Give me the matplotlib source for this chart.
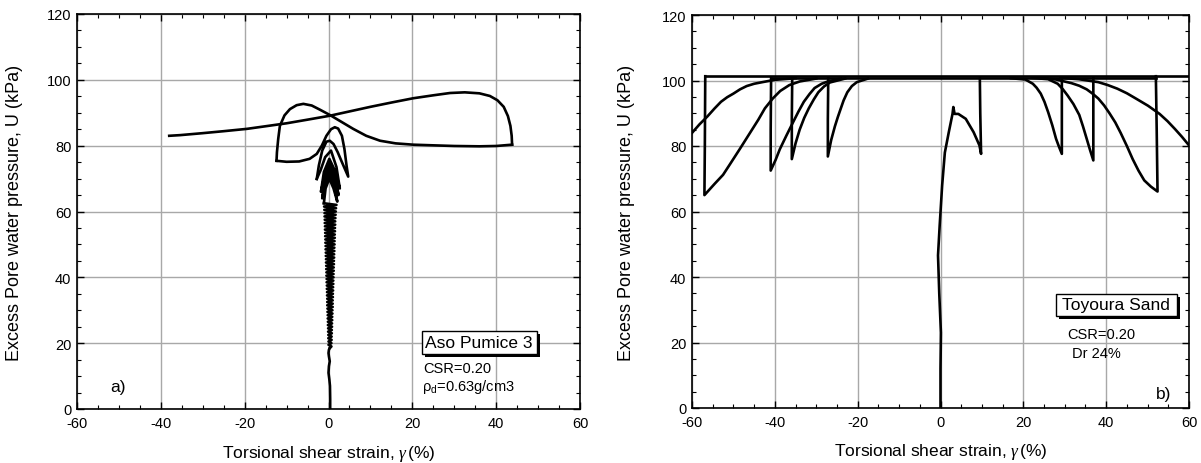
import matplotlib
matplotlib.use("Agg")
import matplotlib.pyplot as plt
from matplotlib.patches import Rectangle
from matplotlib.ticker import MultipleLocator

plt.rcParams['font.family'] = ['Liberation Sans', 'DejaVu Sans']
plt.rcParams['mathtext.fontset'] = 'custom'
plt.rcParams['mathtext.rm'] = 'Liberation Sans'
plt.rcParams['mathtext.it'] = 'Liberation Serif:italic'
plt.rcParams['axes.unicode_minus'] = False

# ---------------- data: (a) Aso Pumice 3 ----------------
# low-level wavy stem
a_stem_x = [0.4, 0.4, 0.35, 0.2, 0.0, 0.1, 0.3, 0.1, 0.0, 0.1, 0.3]
a_stem_u = [0, 3, 7, 9, 11, 13, 14.5, 16, 17, 18, 18.5]
# dense cyclic plume (reversal points)
a_plume_x = [0.7, 0.0, 0.7, 0.0, 0.75, -0.05, 0.75, -0.05, 0.8, -0.1, 0.8, -0.1,
             0.85, -0.15, 0.85, -0.15, 0.9, -0.2, 0.9, -0.2, 0.95, -0.25, 0.95, -0.25,
             1.0, -0.3, 1.0, -0.3, 1.0, -0.3, 1.05, -0.35, 1.05, -0.35, 1.1, -0.4,
             1.1, -0.4, 1.15, -0.45, 1.15, -0.45, 1.2, -0.5, 1.2, -0.5, 1.25, -0.55,
             1.25, -0.55, 1.3, -0.6, 1.3, -0.6, 1.35, -0.65, 1.35, -0.65, 1.4, -0.7,
             1.4, -0.7, 1.45, -0.75, 1.45, -0.75, 1.5, -0.8, 1.5, -0.8, 1.55, -0.85,
             1.55, -0.85, 1.6, -0.9, 1.6, -0.9, 1.65, -0.95, 1.7, -0.95, 1.75, -1.0,
             1.8, -1.05, 1.9, -1.1]
a_plume_u = [19, 19.5, 20, 20.5, 21, 21.5, 22, 22.5, 23, 23.5, 24, 24.5,
             25, 25.5, 26, 26.5, 27, 27.5, 28, 28.5, 29, 29.5, 30, 30.5,
             31, 31.5, 32, 32.5, 33, 33.5, 34, 34.5, 35, 35.5, 36, 36.5,
             37, 37.5, 38, 38.5, 39, 39.5, 40, 40.5, 41, 41.5, 42, 42.5,
             43, 43.5, 44, 44.5, 45, 45.5, 46, 46.5, 47, 47.5, 48, 48.5,
             49, 49.5, 50, 50.5, 51, 51.5, 52, 52.5, 53, 53.5, 54, 54.5,
             55, 55.5, 56, 56.5, 57, 57.5, 58, 58.5, 59, 59.5, 60, 60.5,
             61, 61.5, 62, 62.5]
# nested arches near the top of the plume
a_arch_x = [-0.7, 0.2, 1.2, 2.1, 1.4, 0.3, -0.8, -1.5, -0.9, 0.2, 1.4, 2.4,
            1.6, 0.3, -0.9, -1.8, -1.1, 0.2, 1.5, 2.7, 1.9, 0.6, -0.8, -1.9, -2.8]
a_arch_u = [67, 70, 67, 63, 68, 71.5, 68.5, 64, 69.5, 73, 70, 65,
            70.5, 74.5, 71, 66, 72, 76, 72.5, 67, 73.5, 78.5, 76.5, 72.5, 69.9]
# two larger arches
a_big_x = [-2.3, -1.5, -0.5, 0.3, 1.2, 2.2, 3.2, 4.7,
           4.3, 3.8, 3.2, 2.3, 1.5, 0.6, -0.5, -1.6, -2.8, -4.5, -7.0, -10.0, -12.4]
a_big_u = [74, 78.5, 81.2, 81.5, 80.5, 78, 75, 70.6,
           74, 79, 83, 85.2, 85.6, 85, 83, 80, 77.5, 76, 75.2, 75.1, 75.4]
# half cycle from -12.4 to +43.8
a_fwd_x = [-12.4, -12.3, -12.0, -11.6, -10.5, -9.2, -7.6, -6.0, -4.0, -2.0, 0.35, 3.0,
           5.9, 9.0, 12.3, 16.0, 20.2, 25.0, 30.0, 36.0, 40.0, 43.8]
a_fwd_u = [75.4, 78, 82, 86, 89.2, 91.1, 92.3, 92.7, 92.2, 90.9, 89.3, 87.3,
           85.1, 83.0, 81.5, 80.7, 80.3, 80.1, 79.9, 79.8, 79.9, 80.3]
# final half cycle from +43.8 back to -38
a_back_x = [43.8, 43.7, 43.4, 42.8, 41.8, 40.3, 38.5, 36.0, 32.5, 29.0, 25.0, 20.2,
            15.0, 10.0, 5.0, 0.35, -5.0, -10.0, -15.0, -19.5, -25.0, -30.0, -35.4, -38.0]
a_back_u = [80.3, 83, 86, 89, 91.8, 93.8, 95.1, 95.9, 96.2, 96.0, 95.3, 94.4,
            93.1, 91.8, 90.4, 89.1, 87.9, 86.8, 85.9, 85.1, 84.4, 83.8, 83.2, 83.0]

# ---------------- data: (b) Toyoura Sand ----------------
b_init_x = [0.0, 0.0, 0.1, -0.3, -0.6, -0.2, 0.4, 1.05, 2.0, 2.9, 3.1, 3.4, 4.3, 6.1,
            8.0, 9.4, 9.8, 9.6, 9.5]
b_init_u = [0, 12, 23, 35, 46.6, 55.7, 68, 78, 84.2, 89.8, 91.9, 89.8, 89.8, 88.3,
            84.2, 80.2, 77.6, 90, 100.6]
b_top_hi_x = [-56.8, 60.0]
b_top_hi_u = [101.3, 101.3]
b_top_lo_x = [-41.0, 52.0]
b_top_lo_u = [100.8, 100.8]
# left-hand reversals (vertical drop + recovery curve)
b_l1_x = [-56.8, -56.9, -57.0, -54.5, -52.5, -50.8, -48.5, -46.0, -44.0, -42.4, -40.5,
          -38.7, -36.5, -34.0, -30.0]
b_l1_u = [101.3, 80, 65, 68.5, 71.2, 74.5, 79.0, 84.0, 88.0, 91.5, 94.5,
          96.8, 98.6, 99.7, 100.6]
b_l2_x = [-40.9, -41.0, -41.0, -39.8, -38.8, -37.2, -35.7, -34.3, -33.0, -31.6, -30.4,
          -28.7, -27.0, -24.0]
b_l2_u = [100.8, 85, 72.5, 75.8, 79, 83.2, 87, 90.5, 93.5, 95.9, 97.7,
          99.0, 99.8, 100.6]
b_l3_x = [-35.8, -35.9, -35.9, -35.0, -34.0, -32.9, -31.8, -30.6, -29.5, -28.1, -26.7,
          -23.0]
b_l3_u = [100.8, 88, 76, 80.8, 85, 88.6, 91.5, 94.2, 96.4, 98.2, 99.4, 100.6]
b_l4_x = [-27.1, -27.2, -27.2, -26.4, -25.5, -24.8, -24.2, -23.4, -22.5, -21.4, -20.2,
          -17.5]
b_l4_u = [100.8, 88, 76.8, 81.8, 86, 88.8, 91, 93.9, 96.4, 98.3, 99.5, 100.6]
b_lexit_x = [-60.0, -58.2, -56.3, -54.6, -53.0, -51.5, -50.0, -48.4, -46.8, -45.0,
             -43.0, -40.0, -35.0]
b_lexit_u = [84.0, 86.6, 89.0, 91.4, 93.5, 94.9, 96.0, 97.3, 98.3, 99.0,
             99.5, 100.2, 100.7]
# right-hand reversals
b_r1_x = [29.3, 29.3, 29.3, 28.6, 27.9, 27.0, 26.0, 25.1, 24.2, 23.2, 22.3, 20.5, 17.0]
b_r1_u = [100.8, 88, 77.6, 79.8, 82.2, 86.3, 90.3, 93.5, 96, 97.8, 99, 100.3, 100.7]
b_r2_x = [36.9, 36.9, 36.9, 36.1, 35.3, 34.4, 33.5, 32.1, 30.7, 29.5, 28.3, 26.0, 22.0]
b_r2_u = [100.9, 88, 75.6, 78.8, 82.2, 86.0, 89.5, 92.8, 95.4, 97.4, 99, 100.4, 100.8]
b_r3_x = [52.0, 52.2, 52.4, 50.8, 49.2, 47.8, 46.4, 45.0, 43.5, 42.2, 40.8, 39.5, 38.1,
          36.7, 35.3, 33.5, 31.6, 27.9, 24.0]
b_r3_u = [101.3, 85, 66.1, 67.6, 69.5, 72.5, 76, 80, 84, 87.2, 90, 92.4, 94.5,
          96.0, 97.3, 98.4, 99.2, 100.3, 100.8]
b_rexit_x = [60.0, 58.3, 56.6, 54.8, 52.9, 50.1, 47.3, 45.0, 42.7, 40.4, 38.1, 33.4, 29.0]
b_rexit_u = [80.2, 82.8, 85.2, 87.6, 89.8, 92.3, 94.4, 96.1, 97.5, 98.6, 99.5, 100.4, 100.8]

xlabel = r'Torsional shear strain, $\gamma\,$(%)'
ylabel = 'Excess Pore water pressure, U (kPa)'

fig = plt.figure(figsize=(12.01, 4.64), dpi=100)
ax1 = fig.add_axes([77 / 1201, 1 - 410 / 464, 503 / 1201, 395 / 464])
ax2 = fig.add_axes([692 / 1201, 1 - 409 / 464, 497 / 1201, 393 / 464])

LW = 1.9
for ax in (ax1, ax2):
    ax.set_xlim(-60, 60)
    ax.set_ylim(0, 120)
    ax.xaxis.set_major_locator(MultipleLocator(20))
    ax.xaxis.set_minor_locator(MultipleLocator(5))
    ax.yaxis.set_major_locator(MultipleLocator(20))
    ax.yaxis.set_minor_locator(MultipleLocator(5))
    ax.tick_params(which='both', direction='in', top=True, right=True,
                   labelsize=10.5, color='black')
    ax.tick_params(which='major', length=5, width=1)
    ax.tick_params(which='minor', length=3, width=0.8)
    ax.tick_params(axis='x', which='major', pad=5)
    ax.tick_params(axis='y', which='major', pad=4)
    ax.grid(True, which='major', color='#a8a8a8', lw=1.0)
    ax.set_axisbelow(True)
    for s in ax.spines.values():
        s.set_linewidth(1.2)
    ax.set_xlabel(xlabel, fontsize=12.5)
    ax.set_ylabel(ylabel, fontsize=13)
    ax.xaxis.set_label_coords(0.5, -0.085)

ax1.yaxis.set_label_coords(-0.108, 0.5)
ax2.yaxis.set_label_coords(-0.115, 0.5)

# panel (a)
for xs, us in [(a_stem_x, a_stem_u), (a_stem_x[-1:] + a_plume_x, a_stem_u[-1:] + a_plume_u),
               (a_plume_x[-1:] + a_arch_x, a_plume_u[-1:] + a_arch_u),
               (a_arch_x[-1:] + a_big_x, a_arch_u[-1:] + a_big_u),
               (a_fwd_x, a_fwd_u), (a_back_x, a_back_u)]:
    ax1.plot(xs, us, color='black', lw=LW, solid_joinstyle='round')

# panel (b)
for xs, us in [(b_init_x, b_init_u), (b_top_hi_x, b_top_hi_u), (b_top_lo_x, b_top_lo_u),
               (b_l1_x, b_l1_u), (b_l2_x, b_l2_u), (b_l3_x, b_l3_u), (b_l4_x, b_l4_u),
               (b_lexit_x, b_lexit_u), (b_r1_x, b_r1_u), (b_r2_x, b_r2_u),
               (b_r3_x, b_r3_u), (b_rexit_x, b_rexit_u)]:
    ax2.plot(xs, us, color='black', lw=LW, solid_joinstyle='round')


def shadow_box(ax, x0, x1, y0, y1, text, fs):
    ax.add_patch(Rectangle((x0 + 0.8, y0 - 1.0), x1 - x0, y1 - y0, fc='black',
                           ec='black', lw=0, zorder=5))
    ax.add_patch(Rectangle((x0, y0), x1 - x0, y1 - y0, fc='white', ec='black',
                           lw=1.0, zorder=6))
    ax.text((x0 + x1) / 2, (y0 + y1) / 2, text, fontsize=fs, ha='center',
            va='center', zorder=7)


shadow_box(ax1, 22.2, 49.7, 16.7, 23.8, 'Aso Pumice 3', 12.5)
ax1.text(22.6, 12.4, 'CSR=0.20', fontsize=10.5, va='center', ha='left')
ax1.text(22.4, 7.1, r'$\mathregular{\rho_d}$=0.63g/cm3', fontsize=10.5, va='center', ha='left')
ax1.text(-52, 6.7, 'a)', fontsize=12.5, va='center', ha='left')

shadow_box(ax2, 27.8, 57.0, 28.2, 34.8, 'Toyoura Sand', 12.5)
ax2.text(30.5, 22.6, 'CSR=0.20', fontsize=10.5, va='center', ha='left')
ax2.text(31.8, 16.8, 'Dr 24%', fontsize=10.5, va='center', ha='left')
ax2.text(52.0, 4.3, 'b)', fontsize=12.5, va='center', ha='left')

fig.savefig('out.png', dpi=100)
